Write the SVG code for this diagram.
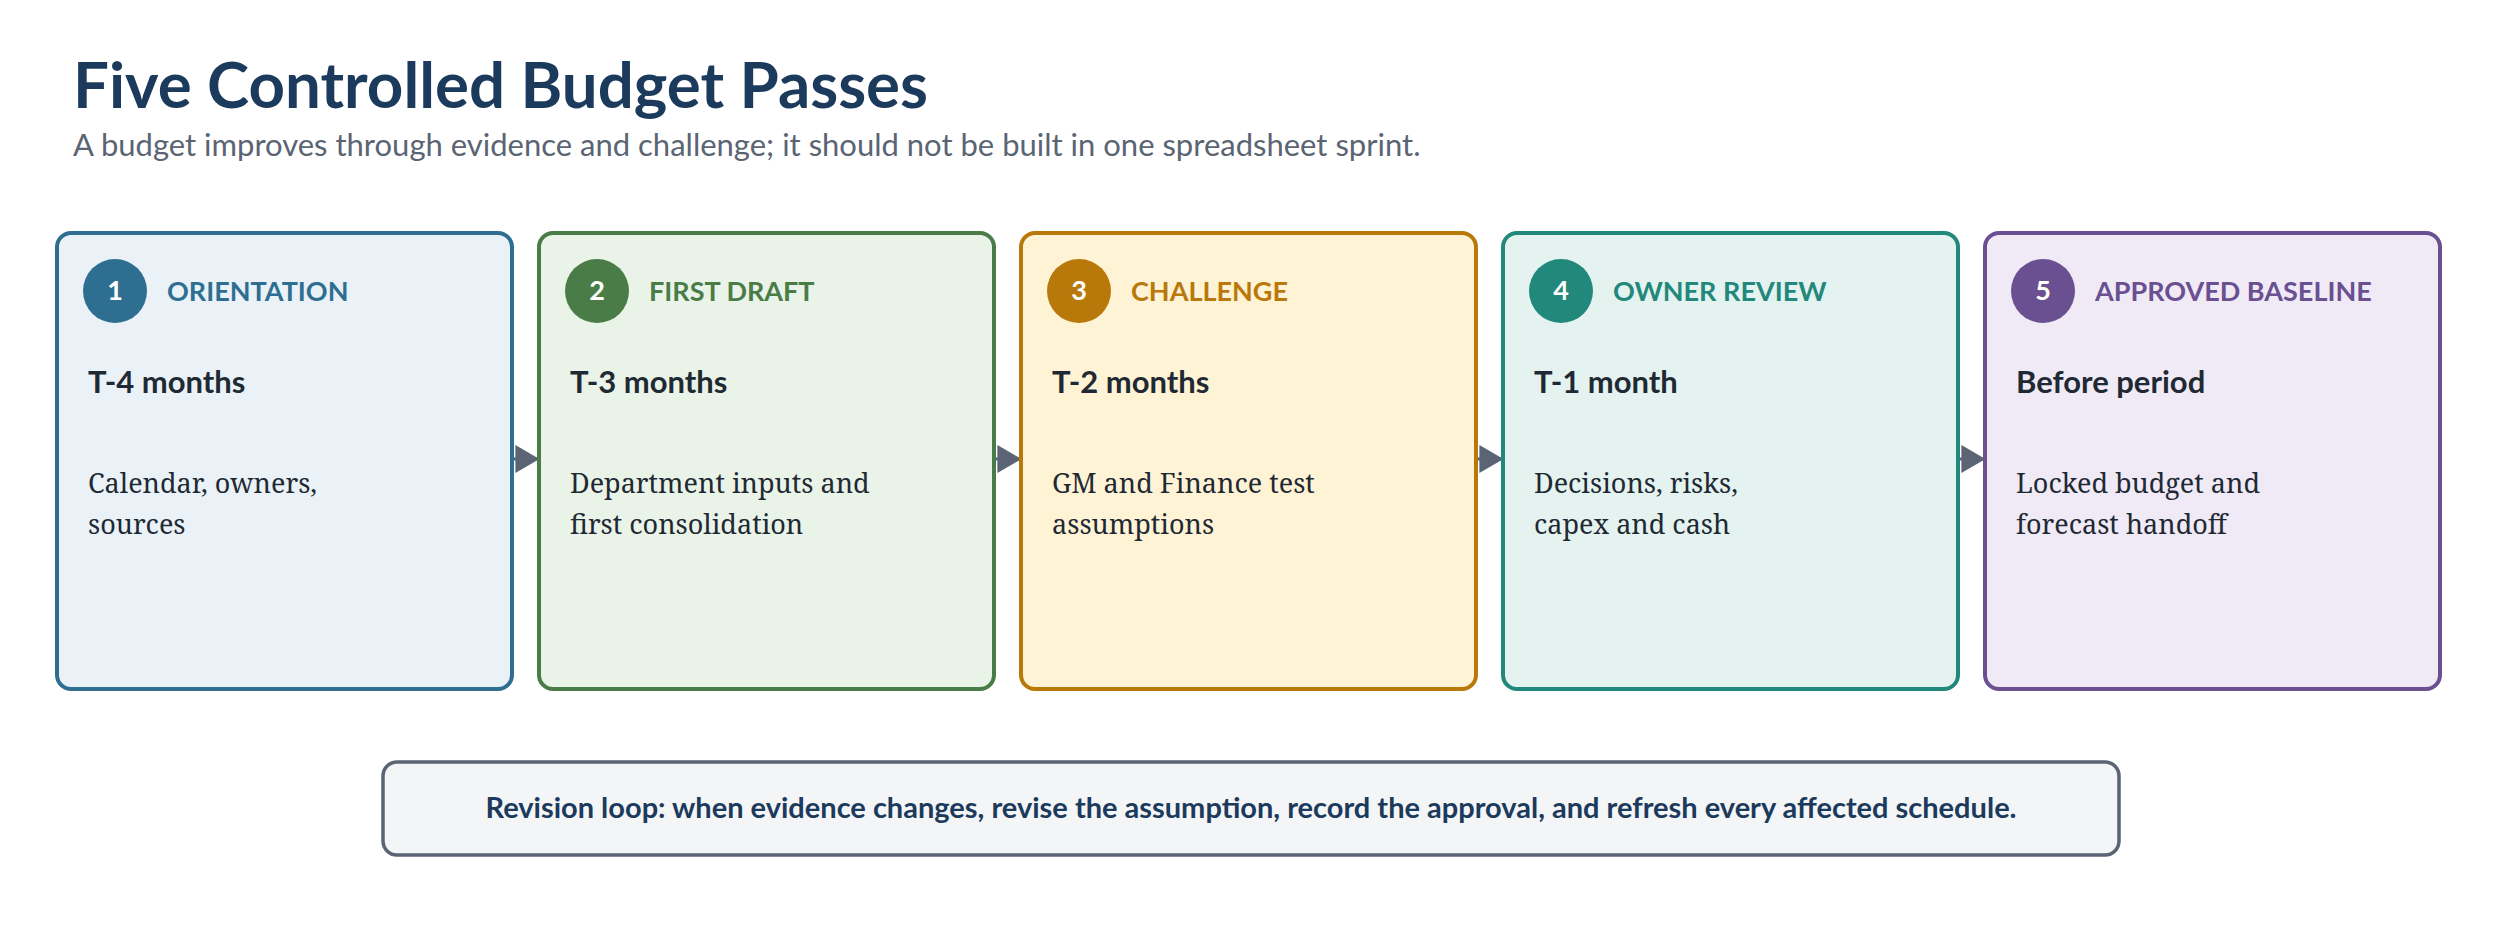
<svg xmlns="http://www.w3.org/2000/svg" width="2500" height="950" viewBox="0 0 2500 950">
<style>
.card{stroke-width:4}
.num{font-family:Lato,"Liberation Sans",sans-serif;font-weight:700;font-size:27px;fill:#fff;text-anchor:middle}
.lab{font-family:Lato,"Liberation Sans",sans-serif;font-weight:700;font-size:27px}
.time{font-family:Lato,"Liberation Sans",sans-serif;font-weight:700;font-size:31px;fill:#1f2933}
.body{font-family:"Noto Serif","DejaVu Serif",serif;font-size:27px;fill:#1f2933}
</style>
<defs>
<marker id="a" viewBox="0 0 10 10" refX="9" refY="5" markerWidth="24" markerHeight="28" orient="auto" markerUnits="userSpaceOnUse" preserveAspectRatio="none"><path d="M0,0L10,5L0,10z" fill="#5a6475"/></marker></defs>
<rect width="2500" height="950" fill="#fff"/>
<text x="73" y="108" font-family="Lato,'Liberation Sans',sans-serif" font-weight="700" font-size="63.6" fill="#1b3a5c">Five Controlled Budget Passes</text>
<text x="73" y="156" font-family="Lato,'Liberation Sans',sans-serif" font-size="31" fill="#5a6473">A budget improves through evidence and challenge; it should not be built in one spreadsheet sprint.</text>
<g id="connectors" stroke="#5a6475" stroke-width="3">
<line x1="512" y1="459" x2="537" y2="459" marker-end="url(#a)"/>
<line x1="994" y1="459" x2="1019" y2="459" marker-end="url(#a)"/>
<line x1="1476" y1="459" x2="1501" y2="459" marker-end="url(#a)"/>
<line x1="1958" y1="459" x2="1983" y2="459" marker-end="url(#a)"/>
</g>
<g id="n1"><rect class="card" x="57" y="233" width="455" height="456" rx="14" fill="#eaf2f8" stroke="#2e6f91"/><circle cx="115" cy="291" r="32" fill="#2e6f91"/><text class="num" x="115" y="300">1</text><text class="lab" x="167" y="301" fill="#2e6f91">ORIENTATION</text><text class="time" x="88" y="393">T-4 months</text><text class="body" x="88" y="493">Calendar, owners,</text><text class="body" x="88" y="534">sources</text></g>
<g id="n2"><rect class="card" x="539" y="233" width="455" height="456" rx="14" fill="#eaf3e8" stroke="#4a7c47"/><circle cx="597" cy="291" r="32" fill="#4a7c47"/><text class="num" x="597" y="300">2</text><text class="lab" x="649" y="301" fill="#4a7c47">FIRST DRAFT</text><text class="time" x="570" y="393">T-3 months</text><text class="body" x="570" y="493">Department inputs and</text><text class="body" x="570" y="534">first consolidation</text></g>
<g id="n3"><rect class="card" x="1021" y="233" width="455" height="456" rx="14" fill="#fff3d6" stroke="#b8790a"/><circle cx="1079" cy="291" r="32" fill="#b8790a"/><text class="num" x="1079" y="300">3</text><text class="lab" x="1131" y="301" fill="#b8790a">CHALLENGE</text><text class="time" x="1052" y="393">T-2 months</text><text class="body" x="1052" y="493">GM and Finance test</text><text class="body" x="1052" y="534">assumptions</text></g>
<g id="n4"><rect class="card" x="1503" y="233" width="455" height="456" rx="14" fill="#e4f3f0" stroke="#23887c"/><circle cx="1561" cy="291" r="32" fill="#23887c"/><text class="num" x="1561" y="300">4</text><text class="lab" x="1613" y="301" fill="#23887c">OWNER REVIEW</text><text class="time" x="1534" y="393">T-1 month</text><text class="body" x="1534" y="493">Decisions, risks,</text><text class="body" x="1534" y="534">capex and cash</text></g>
<g id="n5"><rect class="card" x="1985" y="233" width="455" height="456" rx="14" fill="#efeaf6" stroke="#6a5090"/><circle cx="2043" cy="291" r="32" fill="#6a5090"/><text class="num" x="2043" y="300">5</text><text class="lab" x="2095" y="301" fill="#6a5090">APPROVED BASELINE</text><text class="time" x="2016" y="393">Before period</text><text class="body" x="2016" y="493">Locked budget and</text><text class="body" x="2016" y="534">forecast handoff</text></g>
<g id="loop"><rect x="383" y="762" width="1736" height="93" rx="14" fill="#f3f5f7" stroke="#5a6475" stroke-width="3.5"/><text x="1251" y="818" text-anchor="middle" font-family="Lato,'Liberation Sans',sans-serif" font-weight="700" font-size="29" fill="#1b3a5c">Revision loop: when evidence changes, revise the assumption, record the approval, and refresh every affected schedule.</text></g>
</svg>
